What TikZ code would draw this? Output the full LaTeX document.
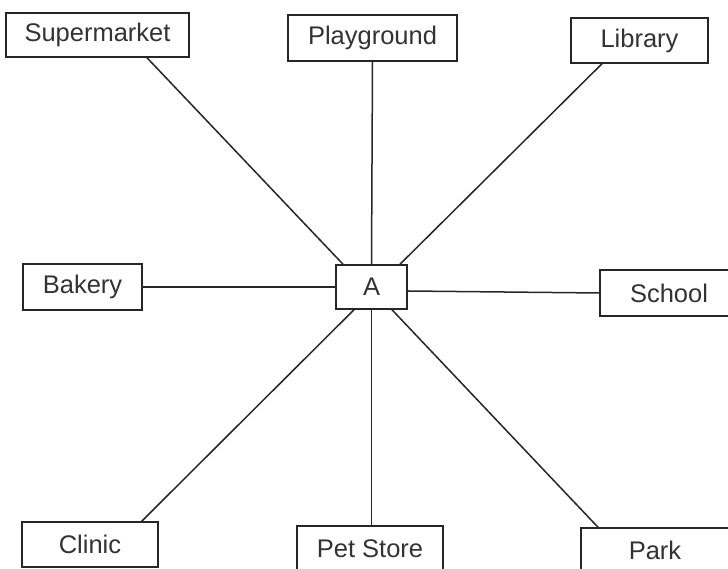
\documentclass[tikz,border=0pt]{standalone}
\usepackage{fontspec}
\setmainfont{Liberation Sans}
\begin{document}
\begin{tikzpicture}[x=1pt,y=1pt,
  place/.style={draw=black!85, line width=1.5pt, fill=white, text=black!80,
    font=\fontsize{25.5}{29}\selectfont, inner sep=0pt, minimum height=45pt},
  link/.style={draw=black!85, line width=1.5pt}]
\useasboundingbox (0,0) rectangle (728,569);
\clip (0,0) rectangle (728,569);
\node[place, minimum width=183pt, minimum height=44pt] (sup)  at (97.5,534)  {Supermarket};
\node[place, minimum width=169pt, minimum height=46pt] (play) at (372.5,531) {Playground};
\node[place, minimum width=137pt] (lib)  at (639.5,528.5) {Library};
\node[place, minimum width=119pt, minimum height=46pt] (bak)  at (82.5,282)  {Bakery};
\node[place, minimum width=71pt, minimum height=44pt] (A)    at (371.5,282) {A};
\node[place, minimum width=138pt, minimum height=46pt] (sch)  at (669,276)   {School};
\node[place, minimum width=136pt] (cli)  at (90,24.5)   {Clinic};
\node[place, minimum width=146pt] (pet)  at (370,20.5)  {Pet Store};
\node[place, minimum width=148pt] (park) at (655,18.5)  {Park};
\draw[link] ([xshift=49.5pt]sup.south) -- ([xshift=-28.5pt]A.north);
\draw[link] (play.south) -- (A.north);
\draw[link] ([xshift=-37.5pt]lib.south) -- ([xshift=28.5pt]A.north);
\draw[link] (bak.east) -- (A.west);
\draw[link] ([yshift=-4pt]A.east) -- (sch.west);
\draw[link] ([xshift=51.7pt]cli.north) -- ([xshift=-17.5pt]A.south);
\draw[link] ([xshift=1.5pt]pet.north) -- (A.south);
\draw[link] ([xshift=-57pt]park.north) -- ([xshift=20.5pt]A.south);
\end{tikzpicture}
\end{document}
